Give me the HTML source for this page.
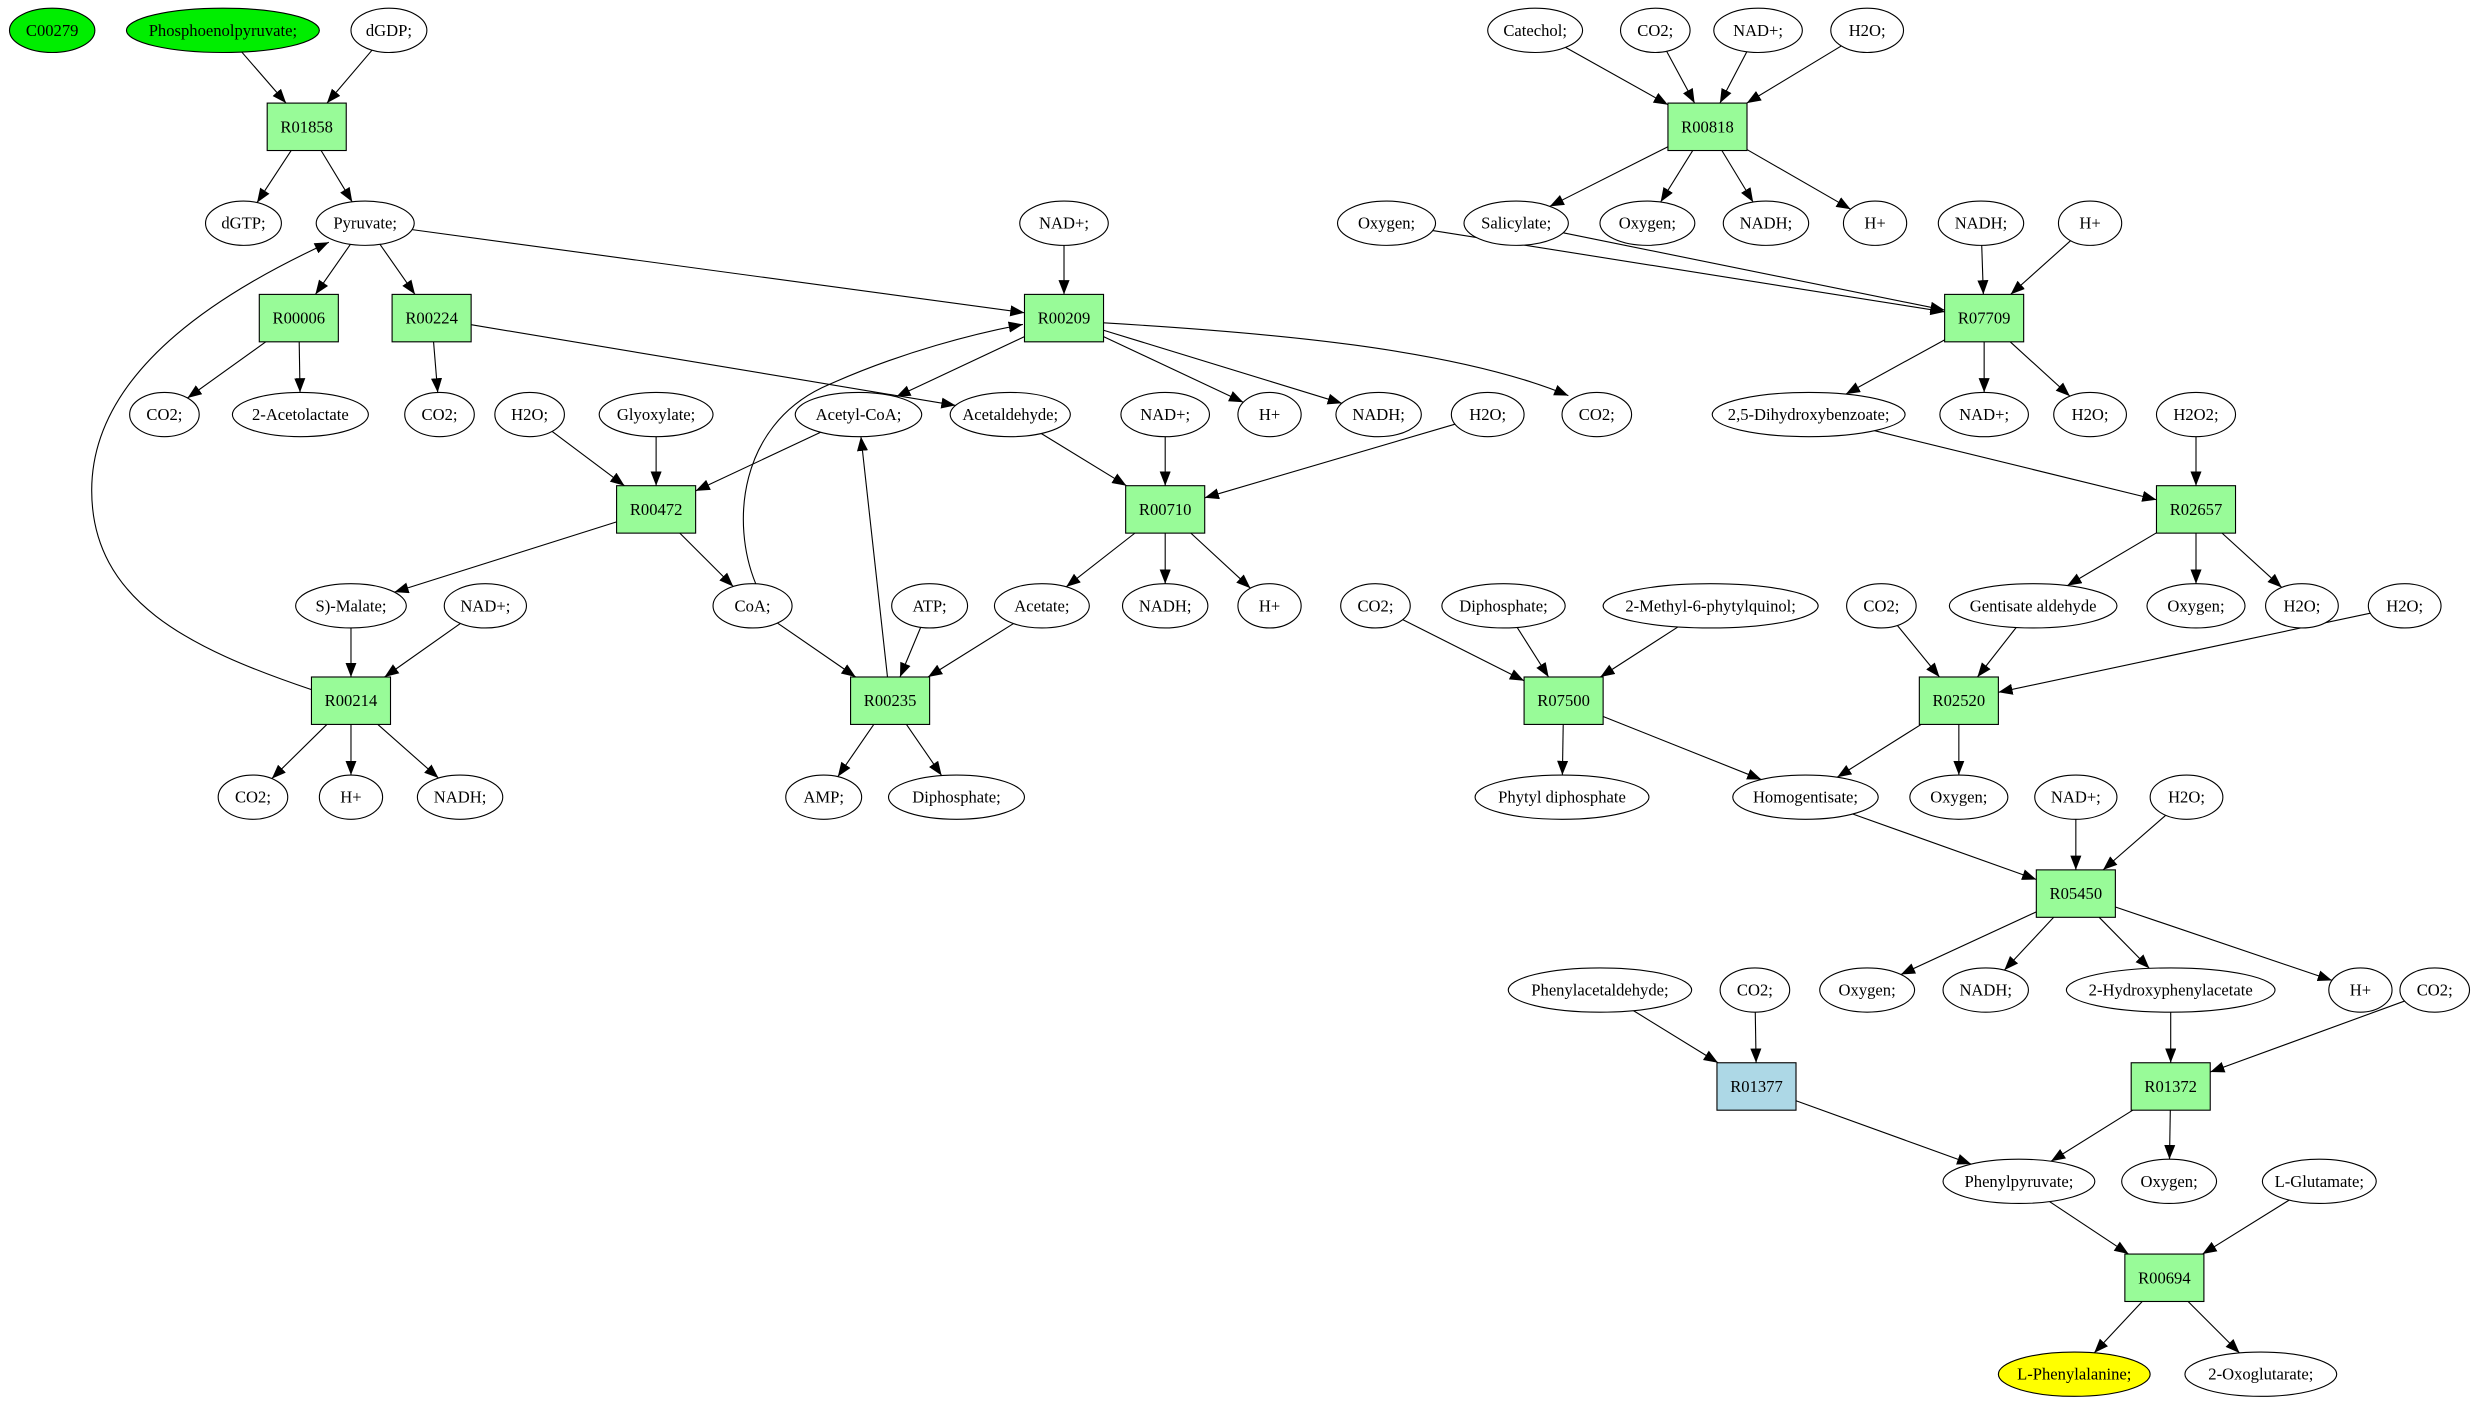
<!DOCTYPE html>
<html><head><meta charset="utf-8"><style>
html,body{margin:0;padding:0;background:#fff;}
svg{display:block;}
text{font-family:"Liberation Serif",serif;font-size:10.5px;text-anchor:middle;dominant-baseline:central;fill:#000;}
</style></head><body>
<svg id="s" width="2479" height="1403" viewBox="0 0 1568 887" xmlns="http://www.w3.org/2000/svg">
<defs><marker id="a" markerUnits="userSpaceOnUse" markerWidth="10" markerHeight="8" refX="9" refY="3.5" orient="auto"><path d="M0,0 L9,3.5 L0,7 Z" fill="#000"/></marker></defs>
<g id="e"></g><g id="n"></g>
</svg>
<script>
var N={},NS="http://www.w3.org/2000/svg";
function el(t,a,p){var x=document.createElementNS(NS,t);for(var k in a)x.setAttribute(k,a[k]);p.appendChild(x);return x;}
var gn=document.getElementById('n'),ge=document.getElementById('e');
function E(id,x,y,rx,label,fill){rx-=2;N[id]={t:'e',x:x,y:y,rx:rx,ry:14};el('ellipse',{cx:x,cy:y,rx:rx,ry:14,fill:fill||'#fff',stroke:'#000','stroke-width':0.7},gn);el('text',{x:x,y:y},gn).textContent=label;}
function B(id,x,y,fill){N[id]={t:'b',x:x,y:y};el('rect',{x:x-25,y:y-15,width:50,height:30,fill:fill||'#98fb98',stroke:'#000','stroke-width':0.7},gn);el('text',{x:x,y:y},gn).textContent=id;}
function clip(n,dx,dy){
 if(n.t=='e'){var t=1/Math.sqrt(dx*dx/(n.rx*n.rx)+dy*dy/(n.ry*n.ry));return [n.x+dx*t,n.y+dy*t];}
 var t=Math.min(dx?25/Math.abs(dx):1e9,dy?15/Math.abs(dy):1e9);return [n.x+dx*t,n.y+dy*t];}
function L(a,b){var A=N[a],Bn=N[b],dx=Bn.x-A.x,dy=Bn.y-A.y;var p=clip(A,dx,dy),q=clip(Bn,-dx,-dy);
 el('line',{x1:p[0],y1:p[1],x2:q[0],y2:q[1],stroke:'#000','stroke-width':0.7,'marker-end':'url(#a)'},ge);}
function P(d){el('path',{d:d,fill:'none',stroke:'#000','stroke-width':0.7,'marker-end':'url(#a)'},ge);}
E('C00279',33,19,29,'C00279','#00ee00');E('PEP',141,19,63,'Phosphoenolpyruvate;','#00ee00');E('dGDP',246,19,26,'dGDP;');
E('Catechol',971,19,32,'Catechol;');E('co2a',1047,19,24,'CO2;');E('nada',1112,19,30,'NAD+;');E('h2oa',1181,19,25,'H2O;');
B('R01858',194,80);B('R00818',1080,80);
E('dGTP',154,141,26,'dGTP;');E('Pyr',231,141,33,'Pyruvate;');E('nadb',673,141,30,'NAD+;');E('oxa',877,141,33,'Oxygen;');
E('Sal',959,141,35,'Salicylate;');E('oxb',1042,141,32,'Oxygen;');E('nadha',1117,141,29,'NADH;');E('ha',1186,141,22,'H+');
E('nadhb',1253,141,29,'NADH;');E('hb',1322,141,22,'H+');
B('R00006',189,201);B('R00224',273,201);B('R00209',673,201);B('R07709',1255,201);
E('co2b',104,262,24,'CO2;');E('Acl',190,262,45,'2-Acetolactate');E('co2c',278,262,24,'CO2;');E('h2ob',335,262,24,'H2O;');
E('Gly',415,262,38,'Glyoxylate;');E('AcCoA',543,262,42,'Acetyl-CoA;');E('Acald',639,262,40,'Acetaldehyde;');E('nadc',737,262,30,'NAD+;');
E('hc',803,262,22,'H+');E('nadhc',872,262,29,'NADH;');E('h2oc',941,262,25,'H2O;');E('co2d',1010,262,24,'CO2;');
E('DHB',1144,262,63,'2,5-Dihydroxybenzoate;');E('nadd',1255,262,30,'NAD+;');E('h2od',1322,262,25,'H2O;');E('H2O2',1389,262,27,'H2O2;');
B('R00472',415,322);B('R00710',737,322);B('R02657',1389,322);
E('Mal',222,383,37,'S)-Malate;');E('nade',307,383,28,'NAD+;');E('CoA',476,383,27,'CoA;');E('ATP',588,383,26,'ATP;');
E('Ace',659,383,32,'Acetate;');E('nadhd',737,383,29,'NADH;');E('hd',803,383,22,'H+');E('co2e',870,383,24,'CO2;');
E('Dip',951,383,41,'Diphosphate;');E('MPQ',1082,383,70,'2-Methyl-6-phytylquinol;');E('co2f',1190,383,24,'CO2;');
E('Gal',1286,383,55,'Gentisate aldehyde');E('oxc',1389,383,33,'Oxygen;');E('h2oe',1456,383,25,'H2O;');E('h2of',1521,383,25,'H2O;');
B('R00214',222,443);B('R00235',563,443);B('R07500',989,443);B('R02520',1239,443);
E('co2g',160,504,24,'CO2;');E('he',222,504,22,'H+');E('nadhe',291,504,29,'NADH;');E('AMP',521,504,26,'AMP;');
E('Dip2',605,504,45,'Diphosphate;');E('Phy',988,504,57,'Phytyl diphosphate');E('Hom',1142,504,48,'Homogentisate;');
E('oxd',1239,504,33,'Oxygen;');E('nadf',1313,504,28,'NAD+;');E('h2og',1383,504,25,'H2O;');
B('R05450',1313,565);
E('PAA',1012,626,60,'Phenylacetaldehyde;');E('co2h',1110,626,24,'CO2;');E('oxe',1181,626,32,'Oxygen;');E('nadhf',1256,626,29,'NADH;');
E('HPA',1373,626,68,'2-Hydroxyphenylacetate');E('hf',1493,626,22,'H+');E('co2i',1540,626,24,'CO2;');
B('R01377',1111,687,'#add8e6');B('R01372',1373,687);
E('PP',1277,747,50,'Phenylpyruvate;');E('oxf',1372,747,32,'Oxygen;');E('Glu',1467,747,38,'L-Glutamate;');
B('R00694',1369,808);
E('Phe',1312,869,50,'L-Phenylalanine;','#ffff00');E('OG',1430,869,50,'2-Oxoglutarate;');
var ed=[['PEP','R01858'],['dGDP','R01858'],['R01858','dGTP'],['R01858','Pyr'],
['Catechol','R00818'],['co2a','R00818'],['nada','R00818'],['h2oa','R00818'],['R00818','Sal'],['R00818','oxb'],['R00818','nadha'],['R00818','ha'],
['Pyr','R00006'],['Pyr','R00224'],['Pyr','R00209'],['nadb','R00209'],['R00006','co2b'],['R00006','Acl'],['R00224','co2c'],['R00224','Acald'],
['R00209','AcCoA'],['R00209','hc'],['R00209','nadhc'],
['oxa','R07709'],['Sal','R07709'],['nadhb','R07709'],['hb','R07709'],['R07709','DHB'],['R07709','nadd'],['R07709','h2od'],
['h2ob','R00472'],['Gly','R00472'],['AcCoA','R00472'],['R00472','Mal'],['R00472','CoA'],
['CoA','R00235'],['R00235','AcCoA'],['ATP','R00235'],['Ace','R00235'],['R00235','AMP'],['R00235','Dip2'],
['Acald','R00710'],['nadc','R00710'],['h2oc','R00710'],['R00710','Ace'],['R00710','nadhd'],['R00710','hd'],
['DHB','R02657'],['H2O2','R02657'],['R02657','Gal'],['R02657','oxc'],['R02657','h2oe'],
['Mal','R00214'],['nade','R00214'],['R00214','co2g'],['R00214','he'],['R00214','nadhe'],
['co2e','R07500'],['Dip','R07500'],['MPQ','R07500'],['R07500','Phy'],['R07500','Hom'],
['co2f','R02520'],['Gal','R02520'],['h2of','R02520'],['R02520','Hom'],['R02520','oxd'],
['Hom','R05450'],['nadf','R05450'],['h2og','R05450'],['R05450','oxe'],['R05450','nadhf'],['R05450','HPA'],['R05450','hf'],
['PAA','R01377'],['co2h','R01377'],['R01377','PP'],['HPA','R01372'],['co2i','R01372'],['R01372','PP'],['R01372','oxf'],
['PP','R00694'],['Glu','R00694'],['R00694','Phe'],['R00694','OG']];
ed.forEach(function(e){L(e[0],e[1]);});
P('M197,436 C120,410 58,380 58,310 C58,230 150,180 208,153');
P('M478,369 C462,330 468,270 520,245 C570,222 620,210 647,205');
P('M698,204 C800,210 920,220 992,250');
</script>
</body></html>
